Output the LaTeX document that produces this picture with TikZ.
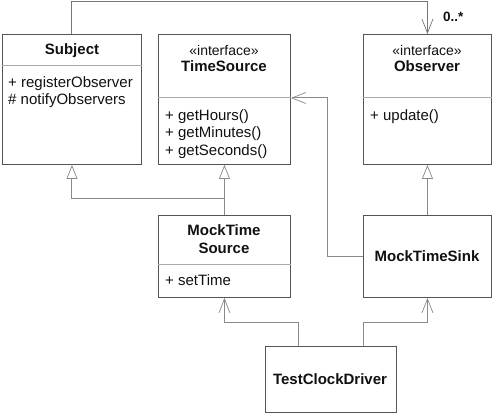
\documentclass[tikz,border=0pt]{standalone}
\usepackage{fontspec}
\setmainfont{Liberation Sans}
\usetikzlibrary{arrows.meta}
\definecolor{boxc}{HTML}{555555}
\definecolor{sepc}{HTML}{AAAAAA}
\definecolor{linec}{HTML}{8A8A8A}
\definecolor{txtc}{HTML}{111111}
\begin{document}
\begin{tikzpicture}[x=1pt,y=-1pt,
  umlbox/.style={draw=boxc, line width=0.9pt, anchor=north west, inner sep=0pt},
  sepline/.style={draw=sepc, line width=1pt},
  conn/.style={draw=linec, line width=1pt},
  opena/.style={-{Straight Barb[length=14pt,width=11pt,line width=0.7pt]}},
  gena/.style={-{Triangle[open,length=14pt,width=11pt,line width=0.7pt,fill=white]}},
  cname/.style={font=\fontsize{15}{18}\selectfont\bfseries, text=txtc, anchor=base, inner sep=0pt},
  stereo/.style={font=\fontsize{14}{16}\selectfont, text=txtc, anchor=base, inner sep=0pt},
  meth/.style={font=\fontsize{15}{18}\selectfont, text=txtc, anchor=base west, inner sep=0pt},
  mult/.style={font=\fontsize{13.5}{15}\selectfont\bfseries, text=txtc, anchor=base west, inner sep=0pt}]
\useasboundingbox (0,0) rectangle (497,414);
\fill[white] (0,0) rectangle (497,414);

% boxes
\node[umlbox, minimum width=139pt, minimum height=130pt] (subject) at (2,34) {};
\node[umlbox, minimum width=132pt, minimum height=130pt] (ts) at (158,34) {};
\node[umlbox, minimum width=128pt, minimum height=130pt] (obs) at (363,34) {};
\node[umlbox, minimum width=132pt, minimum height=82pt] (mts) at (158,215) {};
\node[umlbox, minimum width=128pt, minimum height=82pt] (sink) at (363,215) {};
\node[umlbox, minimum width=131pt, minimum height=66pt] (tcd) at (265,346) {};

% separators
\coordinate (subsep) at (0,66);
\coordinate (tssep) at (0,98);
\coordinate (obssep) at (0,98);
\coordinate (mtssep) at (0,264);
\draw[sepline] (subject.west |- subsep) -- (subject.east |- subsep);
\draw[sepline] (ts.west |- tssep) -- (ts.east |- tssep);
\draw[sepline] (obs.west |- obssep) -- (obs.east |- obssep);
\draw[sepline] (mts.west |- mtssep) -- (mts.east |- mtssep);

% texts
\node[cname] (subjectname) at (72,55) {Subject};
\node[meth] (sm1) at (8,88) {+ registerObserver};
\node[meth] (sm2) at (8,105) {\# notifyObservers};

\node[stereo] (tsst) at (224,56) {«interface»};
\node[cname] (tsname) at (224,72) {TimeSource};
\node[meth] (tm1) at (165,121) {+ getHours()};
\node[meth] (tm2) at (165,138) {+ getMinutes()};
\node[meth] (tm3) at (165,155) {+ getSeconds()};

\node[stereo] (obsst) at (427,56) {«interface»};
\node[cname] (obsname) at (427,72) {Observer};
\node[meth] (om1) at (370,121) {+ update()};

\node[cname] (mtsname1) at (224,235) {MockTime};
\node[cname] (mtsname2) at (224,253) {Source};
\node[meth] (mm1) at (165,285) {+ setTime};

\node[cname] (sinkname) at (427,261) {MockTimeSink};
\node[cname] (tcdname) at (330,384) {TestClockDriver};

% association Subject -> Observer
\draw[conn, draw=boxc!80, opena] (subject.north) -- ++(0,-32) -| (obs.north);
\node[mult] (multlabel) at (443,22) {0..*};

% generalizations
\coordinate (genjoin) at (0,198);
\draw[conn, gena] (mts.north) -- (mts.north |- genjoin) -| (subject.south);
\draw[conn, gena] (mts.north) -- (ts.south);
\draw[conn, gena] (sink.north) -- (obs.south);

% MockTimeSink -> TimeSource
\draw[conn, opena] (sink.west) -- ++(-36,0) |- (ts.east |- tssep);

% TestClockDriver dependencies
\coordinate (tcdl) at (298,0);
\coordinate (tcdr) at (363,0);
\draw[conn, opena] (tcd.north -| tcdl) -- ++(0,-24) -| (mts.south);
\draw[conn, opena] (tcd.north -| tcdr) -- ++(0,-24) -| (sink.south);
\end{tikzpicture}
\end{document}
